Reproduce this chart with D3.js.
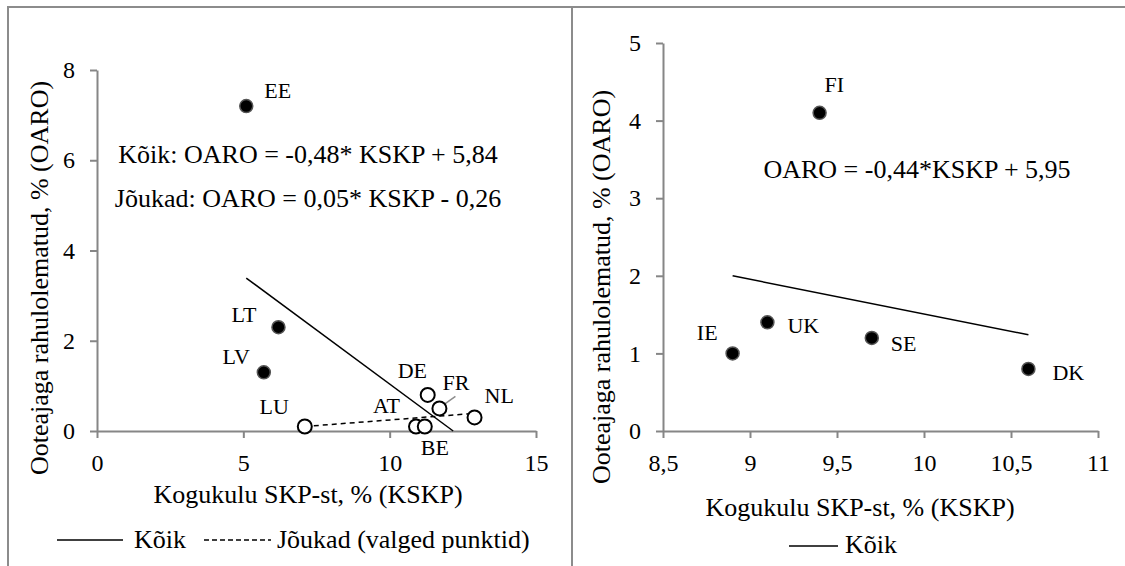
<!DOCTYPE html>
<html>
<head>
<meta charset="utf-8">
<script src="https://cdn.jsdelivr.net/npm/d3@7"></script>
<style>
  body { margin: 0; background: #fff; }
  svg, svg text { font-family: "Liberation Serif", "Tinos", "Times New Roman", Times, "DejaVu Serif", serif !important; fill: #000; }
</style>
</head>
<body>
<div id="chart"></div>
<script>
// Left panel data: spending share of GDP vs. dissatisfied with waiting time
const leftCountries = ["EE", "LT", "LV", "LU", "AT", "BE", "DE", "FR", "NL"];
const leftSpend = [5.1, 6.2, 5.7, 7.1, 10.9, 11.2, 11.3, 11.7, 12.9];
const leftDissat = [7.2, 2.3, 1.3, 0.1, 0.1, 0.1, 0.8, 0.5, 0.3];
const leftRich = [false, false, false, true, true, true, true, true, true];
const leftXTicks = [0, 5, 10, 15];
const leftYTicks = [0, 2, 4, 6, 8];
const leftTrendAll = [[5.1, 3.39], [12.17, 0]];
const leftTrendRich = [[7.1, 0.1], [12.9, 0.39]];
const leftEquations = ["Kõik: OARO = -0,48* KSKP + 5,84", "Jõukad: OARO = 0,05* KSKP - 0,26"];

// Right panel data
const rightCountries = ["FI", "UK", "IE", "SE", "DK"];
const rightSpend = [9.4, 9.1, 8.9, 9.7, 10.6];
const rightDissat = [4.1, 1.4, 1.0, 1.2, 0.8];
const rightXTicks = [8.5, 9, 9.5, 10, 10.5, 11];
const rightYTicks = [0, 1, 2, 3, 4, 5];
const rightTrend = [[8.9, 2.0], [10.6, 1.24]];
const rightEquation = "OARO = -0,44*KSKP + 5,95";

const xTitle = "Kogukulu SKP-st, % (KSKP)";
const yTitle = "Ooteajaga rahulolematud, % (OARO)";

// label placement relative to the marker: [dx, dy, anchor]
const labelPos = {
  EE: [18, -8, "start"], LT: [-22, -5, "end"], LV: [-14, -8, "end"],
  LU: [-16, -12, "end"], AT: [-16, -13, "end"], BE: [-4, 29, "start"],
  DE: [-30, -17, "start"], FR: [3, -18, "start"], NL: [10, -14, "start"],
  FI: [5, -21, "start"], UK: [20, 11, "start"], IE: [-15, -13, "end"],
  SE: [19, 13, "start"], DK: [24, 11, "start"]
};

const width = 1125, height = 566;
const axisColor = "#868686";
const fontFamily = "'Liberation Serif', Tinos, 'Times New Roman', 'DejaVu Serif', serif";
const fmt = d => String(d).replace(".", ",");

const svg = d3.select("#chart").append("svg")
  .attr("width", width)
  .attr("height", height)
  .attr("font-family", fontFamily);

// frame around the two panels
svg.append("path")
  .attr("d", `M8,${height} V7 H${width} M572,7 V${height}`)
  .attr("fill", "none")
  .attr("stroke", "#8c8c8c")
  .attr("stroke-width", 2);

function drawPanel(opt) {
  const x = d3.scaleLinear().domain(opt.xDomain).range([opt.left, opt.right]);
  const y = d3.scaleLinear().domain(opt.yDomain).range([opt.bottom, opt.top]);

  const xAxis = d3.axisBottom(x)
    .tickValues(opt.xTicks)
    .tickFormat(fmt)
    .tickSizeInner(7)
    .tickSizeOuter(0)
    .tickPadding(16);

  const yAxis = d3.axisLeft(y)
    .tickValues(opt.yTicks)
    .tickFormat(fmt)
    .tickSizeInner(7)
    .tickSizeOuter(0)
    .tickPadding(15);

  const xAxisG = svg.append("g")
    .attr("transform", `translate(0,${opt.bottom})`)
    .call(xAxis);
  const yAxisG = svg.append("g")
    .attr("transform", `translate(${opt.left},0)`)
    .call(yAxis);

  [xAxisG, yAxisG].forEach(g => {
    g.attr("font-family", fontFamily).attr("font-size", 24);
    g.selectAll("path, line").attr("stroke", axisColor).attr("stroke-width", 2);
    g.selectAll("text").attr("fill", "#000");
  });

  // axis titles
  svg.append("text")
    .attr("x", opt.xTitleX)
    .attr("y", opt.xTitleY)
    .attr("text-anchor", "middle")
    .attr("font-size", 26)
    .text(xTitle);

  svg.append("text")
    .attr("transform", `translate(${opt.yTitleX},${opt.yTitleY}) rotate(-90)`)
    .attr("text-anchor", "middle")
    .attr("font-size", 26)
    .text(yTitle);

  // trend lines
  const line = d3.line().x(d => x(d[0])).y(d => y(d[1]));
  opt.trends.forEach(t => {
    svg.append("path")
      .attr("d", line(t.data))
      .attr("fill", "none")
      .attr("stroke", "#000")
      .attr("stroke-width", 1.5)
      .attr("stroke-dasharray", t.dashed ? "5,4" : null);
  });

  // leader line for FR
  if (opt.countries.includes("FR")) {
    const i = opt.countries.indexOf("FR");
    svg.append("line")
      .attr("x1", x(opt.spend[i]) + 2).attr("y1", y(opt.dissat[i]) - 2)
      .attr("x2", x(opt.spend[i]) + 16).attr("y2", y(opt.dissat[i]) - 12)
      .attr("stroke", "#8c8c8c")
      .attr("stroke-width", 1.5);
  }

  // markers
  opt.countries.forEach((c, i) => {
    const rich = opt.rich ? opt.rich[i] : false;
    svg.append("circle")
      .attr("cx", x(opt.spend[i]))
      .attr("cy", y(opt.dissat[i]))
      .attr("r", rich ? 7 : 6.5)
      .attr("fill", rich ? "#fff" : "#000")
      .attr("stroke", rich ? "#000" : "#555")
      .attr("stroke-width", rich ? 2 : 1.5);
  });

  // country labels
  opt.countries.forEach((c, i) => {
    const p = labelPos[c];
    svg.append("text")
      .attr("x", x(opt.spend[i]) + p[0])
      .attr("y", y(opt.dissat[i]) + p[1])
      .attr("text-anchor", p[2])
      .attr("font-size", 22)
      .text(c);
  });

  // equations
  opt.equations.forEach((e, i) => {
    svg.append("text")
      .attr("x", opt.eqX)
      .attr("y", opt.eqY[i])
      .attr("text-anchor", "middle")
      .attr("font-size", 26)
      .text(e);
  });
}

drawPanel({
  xDomain: [0, 15], yDomain: [0, 8],
  left: 97, right: 536, top: 70, bottom: 431,
  xTicks: leftXTicks, yTicks: leftYTicks,
  countries: leftCountries, spend: leftSpend, dissat: leftDissat, rich: leftRich,
  trends: [{data: leftTrendAll, dashed: false}, {data: leftTrendRich, dashed: true}],
  equations: leftEquations, eqX: 308, eqY: [163, 207],
  xTitleX: 308, xTitleY: 503, yTitleX: 48, yTitleY: 278
});

drawPanel({
  xDomain: [8.5, 11], yDomain: [0, 5],
  left: 663, right: 1098, top: 43, bottom: 431,
  xTicks: rightXTicks, yTicks: rightYTicks,
  countries: rightCountries, spend: rightSpend, dissat: rightDissat, rich: null,
  trends: [{data: rightTrend, dashed: false}],
  equations: [rightEquation], eqX: 917, eqY: [178],
  xTitleX: 860, xTitleY: 516, yTitleX: 610, yTitleY: 287
});

// Legends
const legendLeft = svg.append("g");
legendLeft.append("line")
  .attr("x1", 57).attr("x2", 123).attr("y1", 540).attr("y2", 540)
  .attr("stroke", "#000").attr("stroke-width", 1.5);
legendLeft.append("text")
  .attr("x", 134).attr("y", 548)
  .attr("font-size", 26)
  .text("Kõik");
legendLeft.append("line")
  .attr("x1", 204).attr("x2", 271).attr("y1", 540).attr("y2", 540)
  .attr("stroke", "#000").attr("stroke-width", 1.5)
  .attr("stroke-dasharray", "5,3");
legendLeft.append("text")
  .attr("x", 277).attr("y", 548)
  .attr("font-size", 26)
  .text("Jõukad (valged punktid)");

const legendRight = svg.append("g");
legendRight.append("line")
  .attr("x1", 789).attr("x2", 838).attr("y1", 546).attr("y2", 546)
  .attr("stroke", "#000").attr("stroke-width", 1.5);
legendRight.append("text")
  .attr("x", 845).attr("y", 553)
  .attr("font-size", 26)
  .text("Kõik");
</script>
</body>
</html>
